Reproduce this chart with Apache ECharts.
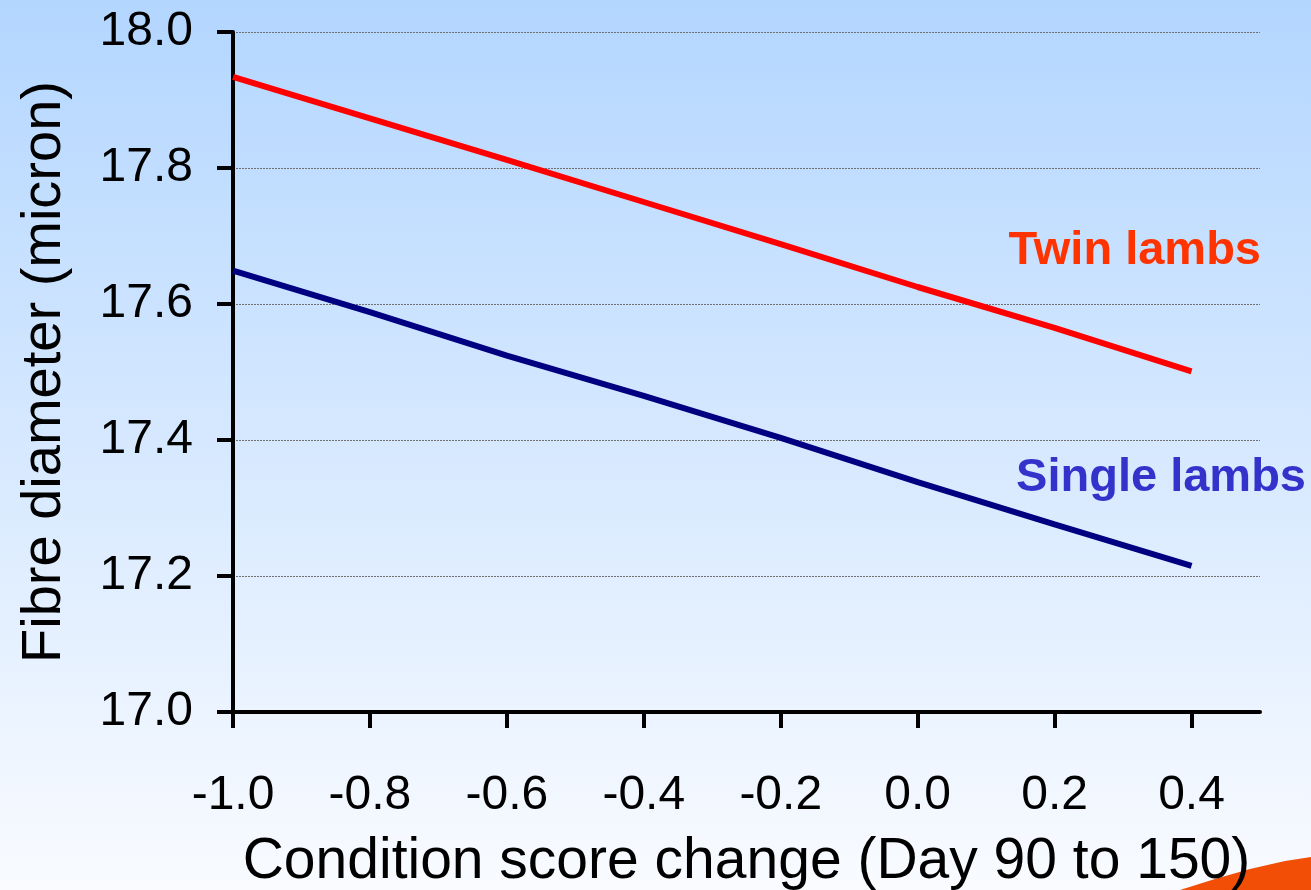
<!DOCTYPE html>
<html>
<head>
<meta charset="utf-8">
<style>
html,body{margin:0;padding:0;width:1311px;height:890px;overflow:hidden;}
#chart{width:1311px;height:890px;}
</style>
<script src="https://cdn.jsdelivr.net/npm/echarts@6/dist/echarts.min.js"></script>
</head>
<body>
<div id="chart"></div>
<script>
// Data
const xValues = [-1.0, -0.8, -0.6, -0.4, -0.2, 0.0, 0.2, 0.4];
const twinLambs = [17.934, 17.873, 17.812, 17.750, 17.688, 17.625, 17.565, 17.501];
const singleLambs = [17.649, 17.588, 17.524, 17.465, 17.403, 17.338, 17.276, 17.215];
const xTickValues = [-1.0, -0.8, -0.6, -0.4, -0.2, 0.0, 0.2, 0.4];
const yTickValues = [17.0, 17.2, 17.4, 17.6, 17.8, 18.0];
const xTitle = 'Condition score change (Day 90 to 150)';
const yTitle = 'Fibre diameter (micron)';
const twinLabel = 'Twin lambs';
const singleLabel = 'Single lambs';

const chart = echarts.init(document.getElementById('chart'));
const font = 'Liberation Sans, Arial, sans-serif';
const pair = (xs, ys) => xs.map((x, i) => [x, ys[i]]);

chart.setOption({
  animation: false,
  backgroundColor: new echarts.graphic.LinearGradient(0, 0, 0, 1, [
    {offset: 0, color: '#B3D6FF'},
    {offset: 1, color: '#F9FBFF'}
  ]),
  grid: {left: 233, top: 32, right: 51, bottom: 178, containLabel: false, outerBoundsMode: 'none'},
  xAxis: {
    type: 'value', min: -1.0, max: 0.5, interval: 0.2,
    axisLine: {show: true, onZero: false, lineStyle: {color: '#000', width: 4}},
    axisTick: {show: true, length: 16, lineStyle: {color: '#000', width: 4}, customValues: xTickValues},
    axisLabel: {
      customValues: xTickValues,
      formatter: v => Number(v).toFixed(1),
      color: '#000', fontSize: 48, fontFamily: font, margin: 60
    },
    splitLine: {show: false},
    name: xTitle, nameLocation: 'middle', nameGap: 122,
    nameTextStyle: {color: '#000', fontSize: 57, fontFamily: font}
  },
  yAxis: {
    type: 'value', min: 17.0, max: 18.0, interval: 0.2,
    axisLine: {show: true, onZero: false, lineStyle: {color: '#000', width: 4}},
    axisTick: {show: true, length: 16, lineStyle: {color: '#000', width: 4}, customValues: yTickValues},
    axisLabel: {
      customValues: yTickValues,
      formatter: v => Number(v).toFixed(1),
      color: '#000', fontSize: 48, fontFamily: font, margin: 40
    },
    splitLine: {show: true, lineStyle: {color: '#707070', width: 1, type: [2, 1]}},
    name: yTitle, nameLocation: 'middle', nameGap: 160, nameRotate: 90,
    nameTextStyle: {color: '#000', fontSize: 56, fontFamily: font}
  },
  series: [
    {
      type: 'line', data: pair(xValues, twinLambs), symbol: 'none',
      lineStyle: {color: '#FF0000', width: 6}, z: 3
    },
    {
      type: 'line', data: pair(xValues, singleLambs), symbol: 'none',
      lineStyle: {color: '#000080', width: 6}, z: 3
    }
  ],
  graphic: [
    {
      type: 'text', right: 50, top: 228,
      style: {text: twinLabel, fill: '#FF3300', font: 'bold 47px ' + font}
    },
    {
      type: 'text', right: 5, top: 455,
      style: {text: singleLabel, fill: '#3333CC', font: 'bold 47px ' + font}
    },
    {
      type: 'polygon', silent: true, z: -1,
      shape: {points: [[1180, 890], [1215, 879], [1250, 869], [1285, 861], [1311, 857], [1311, 890]]},
      style: {fill: '#F24E05'}
    }
  ]
});
</script>
</body>
</html>
